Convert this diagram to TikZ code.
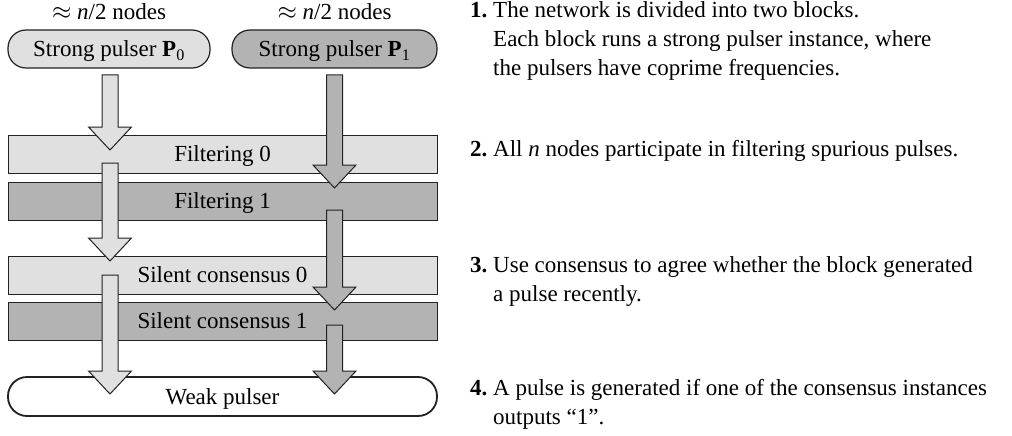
\documentclass[tikz,border=0pt]{standalone}
\usepackage{fontspec}
\setmainfont{Liberation Serif}
\definecolor{lightg}{HTML}{E0E0E0}
\definecolor{darkg}{HTML}{B3B3B3}
\definecolor{linec}{HTML}{222222}
\newcommand{\blockarr}[4]{%
  \filldraw[barr, fill=#4] (#1-8,#2) -- (#1+8,#2) -- (#1+8,#3-23) -- (#1+21.5,#3-23) -- (#1,#3) -- (#1-21.5,#3-23) -- (#1-8,#3-23) -- cycle;}
\begin{document}
\begin{tikzpicture}[x=1pt,y=-1pt,
  every node/.style={font=\fontsize{23}{29}\selectfont},
  blk/.style={draw=linec, line width=1pt, minimum height=38pt, inner sep=0pt, text height=15pt, text depth=0pt},
  pulser/.style={blk, rounded corners=18pt, line width=1.2pt},
  barr/.style={draw=linec, line width=1pt, line join=miter},
  txt/.style={anchor=base west, inner sep=0pt}]
\useasboundingbox (0,0) rectangle (1012,436);
% top labels
\node[anchor=base, inner sep=0pt] (n0) at (109,19.5) {$\approx$ \textit{n}/2 nodes};
\node[anchor=base, inner sep=0pt] (n1) at (334.5,19.5) {$\approx$ \textit{n}/2 nodes};
% boxes
\node[pulser, fill=lightg, minimum width=202pt] (P0) at (109,49) {Strong pulser \textbf{P}$_{\mathrm{0}}$};
\node[pulser, fill=darkg, minimum width=205pt] (P1) at (334.5,49) {Strong pulser \textbf{P}$_{\mathrm{1}}$};
\node[blk, fill=lightg, minimum width=429pt] (F0) at (222.5,154) {Filtering 0};
\node[blk, fill=darkg, minimum width=429pt] (F1) at (222.5,201) {Filtering 1};
\node[blk, fill=lightg, minimum width=429pt] (S0) at (222.5,275) {Silent consensus 0};
\node[blk, fill=darkg, minimum width=429pt] (S1) at (222.5,321) {Silent consensus 1};
\node[blk, fill=white, rounded corners=19pt, line width=1.8pt, minimum width=429pt, minimum height=39pt] (W) at (222.5,396.5) {Weak pulser};
% block arrows
\blockarr{110}{75}{150}{lightg}
\blockarr{334.5}{75}{188}{darkg}
\blockarr{110}{163}{261}{lightg}
\blockarr{334.5}{210}{310}{darkg}
\blockarr{110}{275}{394}{lightg}
\blockarr{334.5}{325}{394}{darkg}
% right text
\node[txt] (t1a) at (470,18) {\textbf{1.}\ The network is divided into two blocks.};
\node[txt] (t1b) at (493,47) {Each block runs a strong pulser instance, where};
\node[txt] (t1c) at (493,76) {the pulsers have coprime frequencies.};
\node[txt] (t2a) at (470,156) {\textbf{2.}\ All \textit{n} nodes participate in filtering spurious pulses.};
\node[txt] (t3a) at (470,272) {\textbf{3.}\ Use consensus to agree whether the block generated};
\node[txt] (t3b) at (493,301) {a pulse recently.};
\node[txt] (t4a) at (470,395) {\textbf{4.}\ A pulse is generated if one of the consensus instances};
\node[txt] (t4b) at (493,424) {outputs ``1''.};
\end{tikzpicture}
\end{document}
